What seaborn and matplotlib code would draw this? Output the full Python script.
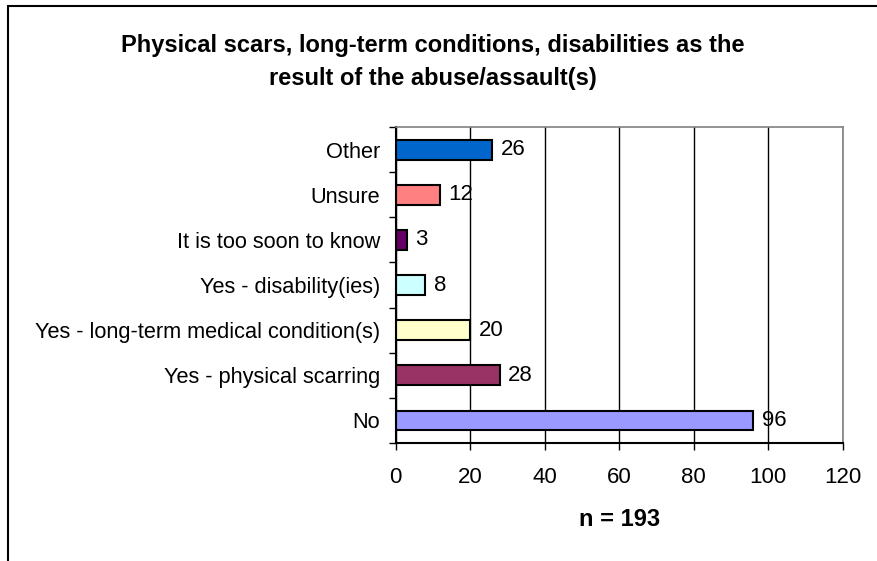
import matplotlib
matplotlib.use("Agg")
import matplotlib.pyplot as plt
from matplotlib.lines import Line2D
import numpy as np
import seaborn as sns

# data
categories = ["Other", "Unsure", "It is too soon to know", "Yes - disability(ies)",
              "Yes - long-term medical condition(s)", "Yes - physical scarring", "No"]
counts = [26, 12, 3, 8, 20, 28, 96]
bar_colors = ["#0066CC", "#FF8080", "#660066", "#CCFFFF", "#FFFFCC", "#993366", "#9999FF"]
x_ticks = [0, 20, 40, 60, 80, 100, 120]

sns.set_style("white")
plt.rcParams["font.family"] = ["Liberation Sans", "DejaVu Sans"]
plt.rcParams["text.color"] = "black"
plt.rcParams["xtick.color"] = "black"
plt.rcParams["ytick.color"] = "black"
plt.rcParams["axes.labelcolor"] = "black"

fig = plt.figure(figsize=(8.77, 5.61), dpi=100)
ax = fig.add_axes([0.451, 0.2103, 0.510, 0.5633])

sns.barplot(x=counts, y=categories, hue=categories, palette=bar_colors, legend=False,
            orient="h", width=0.44, edgecolor="black", linewidth=1.5, saturation=1, ax=ax)

ax.set_xlim(0, 120)
ax.set_ylim(6.5, -0.5)
ax.set_xticks(x_ticks)
ax.set_xticklabels([str(t) for t in x_ticks], fontsize=16)
ax.tick_params(axis="x", direction="out", length=5, width=1, pad=12, bottom=True)
ax.set_yticks(range(len(categories)))
ax.set_yticklabels(categories, fontsize=15.7)
ax.tick_params(axis="y", which="major", length=0, pad=11)
ax.set_yticks(np.arange(-0.5, 7, 1), minor=True)
ax.tick_params(axis="y", which="minor", direction="out", length=5, width=1, left=True)

ax.grid(axis="x", color="black", linewidth=1)
ax.set_axisbelow(True)
for side in ["top", "right"]:
    ax.spines[side].set_visible(True)
    ax.spines[side].set_color("#808080")
    ax.spines[side].set_linewidth(1.2)
for side in ["left", "bottom"]:
    ax.spines[side].set_color("black")
    ax.spines[side].set_linewidth(1.5)

for i, v in enumerate(counts):
    ax.annotate(str(v), (v, i), xytext=(6, 0), textcoords="offset points",
                va="center", ha="left", fontsize=16)

ax.set_xlabel("n = 193", fontsize=17, fontweight="bold", labelpad=15)
ax.set_ylabel("")

fig.text(0.494, 0.889, "Physical scars, long-term conditions, disabilities as the\nresult of the abuse/assault(s)",
         ha="center", va="center", fontsize=17, fontweight="bold", linespacing=1.55)

# outer chart border (only left and top edges show in the reference)
fig.add_artist(Line2D([8 / 877, 8 / 877], [0, 1 - 6 / 561], color="black", linewidth=1.5))
fig.add_artist(Line2D([8 / 877, 1], [1 - 6 / 561, 1 - 6 / 561], color="black", linewidth=1.5))

fig.savefig("out.png", dpi=100)
